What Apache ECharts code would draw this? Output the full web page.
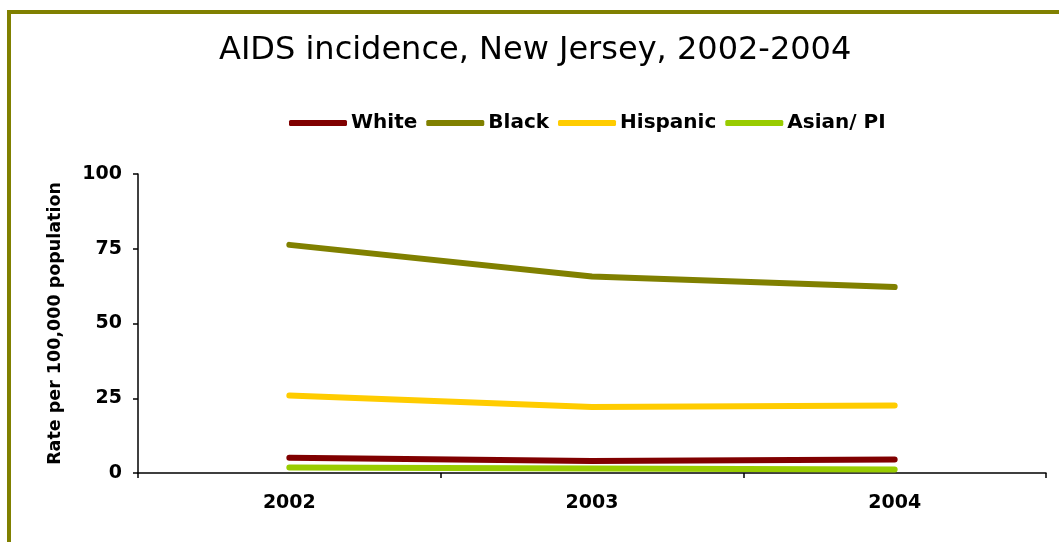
<!DOCTYPE html>
<html><head><meta charset="utf-8">
<script src="https://cdn.jsdelivr.net/npm/echarts@6/dist/echarts.min.js"></script>
<style>html,body{margin:0;padding:0;background:#fff}#c{width:1059px;height:542px}</style>
</head><body><div id="c"></div>
<script>
const years = ['2002','2003','2004'];
const white = [5.1, 4.0, 4.5];
const black = [76.3, 65.7, 62.2];
const hispanic = [25.9, 22.1, 22.6];
const asian = [1.8, 1.5, 1.2];
const yTicks = [0, 25, 50, 75, 100];

const chart = echarts.init(document.getElementById('c'));
const font = 'DejaVu Sans, sans-serif';
function s(name, data, color){
  return {name, type:'line', data, symbol:'none', smooth:false,
    lineStyle:{width:6, color, cap:'round', join:'round'}, itemStyle:{color}};
}
chart.setOption({
  animation:false,
  graphic:[{type:'rect', shape:{x:9, y:12, width:1200, height:700},
    style:{fill:'none', stroke:'#808000', lineWidth:4}, z:-1}],
  title:{text:'AIDS incidence, New Jersey, 2002-2004', left:214, top:30,
    textStyle:{fontFamily:font, fontSize:32, fontWeight:'normal', color:'#000'}},
  legend:{top:108, left:284, itemWidth:58, itemHeight:6, itemGap:9, icon:'roundRect',
    textStyle:{fontFamily:font, fontSize:20, fontWeight:'bold', color:'#000', padding:[0,0,0,-1]},
    data:['White','Black','Hispanic','Asian/ PI']},
  grid:{left:138, top:174, right:13, bottom:69},
  xAxis:{type:'category', data:years, boundaryGap:true,
    axisLine:{lineStyle:{color:'#000', width:1.5}},
    axisTick:{show:true, length:5, lineStyle:{color:'#000', width:1.5}},
    axisLabel:{fontFamily:font, fontSize:19, fontWeight:'bold', color:'#000', margin:21}},
  yAxis:{type:'value', min:0, max:100, interval:25,
    name:'Rate per 100,000 population', nameLocation:'middle', nameGap:74,
    nameTextStyle:{fontFamily:font, fontSize:17.5, fontWeight:'bold', color:'#000'},
    axisLine:{show:true, lineStyle:{color:'#000', width:1.5}},
    axisTick:{show:true, length:5, lineStyle:{color:'#000', width:1.5}},
    splitLine:{show:false},
    axisLabel:{fontFamily:font, fontSize:19, fontWeight:'bold', color:'#000', margin:16,
      formatter:v=> yTicks.includes(v) ? String(v) : ''}},
  series:[
    s('White', white, '#800000'),
    s('Black', black, '#808000'),
    s('Hispanic', hispanic, '#FFCC00'),
    s('Asian/ PI', asian, '#99CC00')
  ]
});
</script></body></html>
